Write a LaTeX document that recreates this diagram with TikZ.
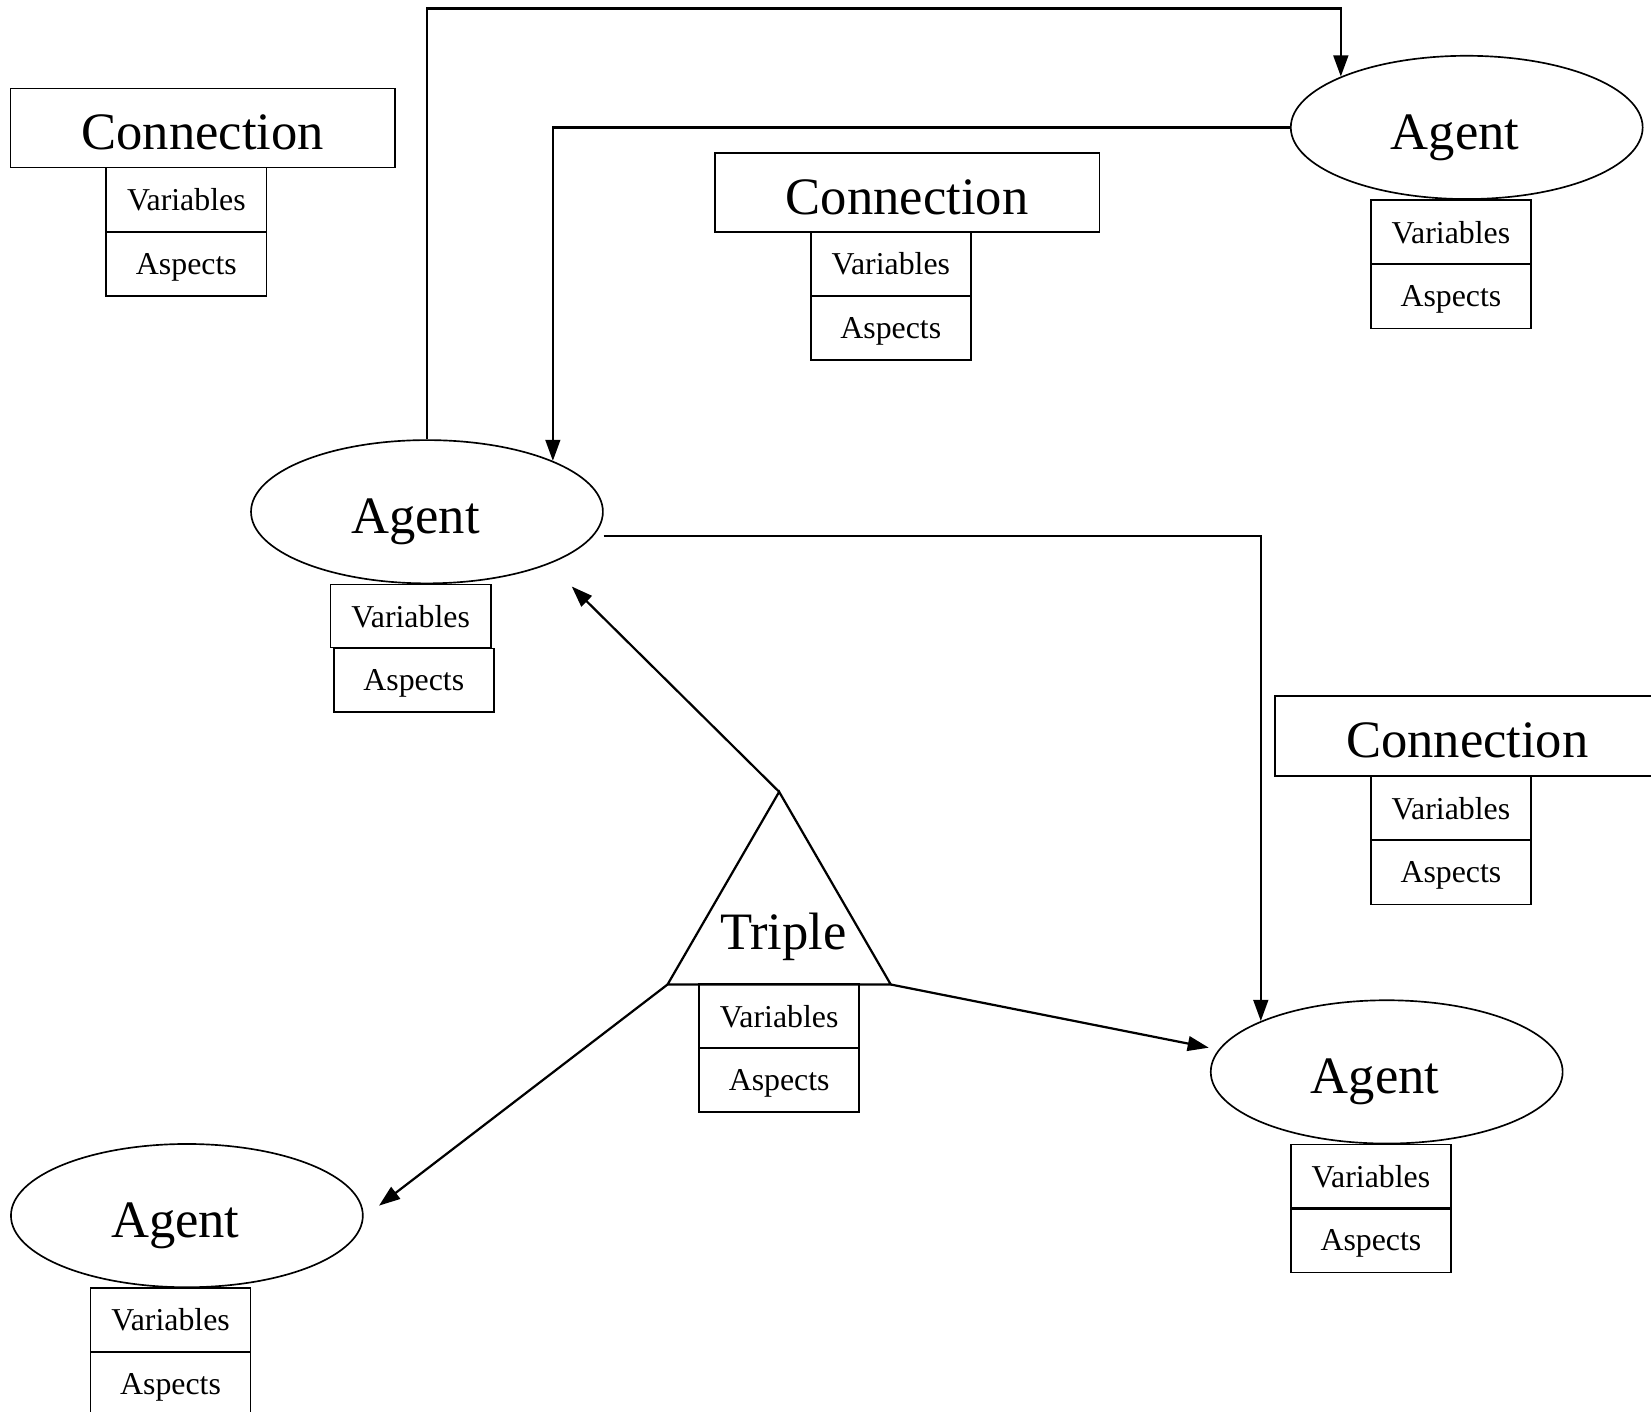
\documentclass[tikz,border=0pt]{standalone}
\usepackage{fontspec}
\setmainfont{Liberation Serif}
\usetikzlibrary{arrows.meta,shapes.geometric,positioning}

\tikzset{
	bigtext/.style={font=\fontsize{14.2}{17}\selectfont,text height=11.8pt,text depth=0pt},
	smalltext/.style={font=\fontsize{8.6}{10}\selectfont,text depth=0pt},
	conbox/.style={rectangle,draw,line width=0.45pt,inner sep=0pt,minimum width=3.65cm,minimum height=0.75cm,bigtext},
	fieldbox/.style={rectangle,draw,line width=0.45pt,inner sep=0pt,minimum width=1.52cm,minimum height=0.61cm,smalltext},
	agent/.style={ellipse,draw,line width=0.45pt,inner sep=0pt,minimum width=3.34cm,minimum height=1.36cm,bigtext},
}

\begin{document}
\begin{tikzpicture}[x=0.01cm,y=-0.01cm]
		\useasboundingbox (0,0) rectangle (1568,1341);

		% agents
		\node[agent] (A1) at (1393,121) {Agent\hspace*{0.22cm}};
		\node[fieldbox] (A1v) at (1378,220.5) {Variables};
		\node[fieldbox] (A1a) at (1378,281.5) {Aspects};

		\node[agent] (A2) at (405.5,486) {Agent\hspace*{0.22cm}};
		\node[fieldbox,minimum height=0.6cm] (A2v) at (390,585) {Variables};
		\node[fieldbox,minimum height=0.6cm] (A2a) at (393,646) {Aspects};

		\node[agent] (A3) at (1317,1018) {Agent\hspace*{0.22cm}};
		\node[fieldbox] (A3v) at (1302,1117.5) {Variables};
		\node[fieldbox] (A3a) at (1302,1178) {Aspects};

		\node[agent] (A4) at (177.5,1154.5) {Agent\hspace*{0.22cm}};
		\node[fieldbox] (A4v) at (162,1253.5) {Variables};
		\node[fieldbox] (A4a) at (162,1314.5) {Aspects};

		% connections
		\node[conbox] (C1) at (192.5,121.5) {Connection};
		\node[fieldbox] (C1v) at (177,189.5) {Variables};
		\node[fieldbox] (C1a) at (177,250.5) {Aspects};

		\node[conbox] (C2) at (861.5,182.5) {Connection};
		\node[fieldbox] (C2v) at (846,250.5) {Variables};
		\node[fieldbox] (C2a) at (846,311.5) {Aspects};

		\node[conbox,minimum height=0.76cm] (C3) at (1393.5,699) {Connection};
		\node[fieldbox] (C3v) at (1378,767.5) {Variables};
		\node[fieldbox] (C3a) at (1378,828.5) {Aspects};

		% triple
		\coordinate (triTop) at (740,752);
		\coordinate (triL) at (634,935);
		\coordinate (triR) at (846,935);
		\draw[line width=0.6pt,line join=miter] (triTop) -- (triR) -- (triL) -- cycle;
		\node[bigtext] (T) at (744,881) {Triple};
		\node[fieldbox] (Tv) at (740,965) {Variables};
		\node[fieldbox] (Ta) at (740,1025.5) {Aspects};

		\coordinate (top) at (0,8);
		\coordinate (tipA2) at (543,557);
		\coordinate (tipA3) at (1148,995);
		\coordinate (tipA4) at (360,1145);

		\begin{scope}[>={Triangle[length=2mm,width=1.4mm]},line width=0.6pt]
			\draw[->] (A2.north) -- (A2.north |- top) -| (A1.158);
			\draw[->] (A1.west) -| (A2.22);
			\draw[->] ([yshift=-0.23cm]A2.east) -| (A3.158);
			\draw[->] (triTop) -- (tipA2);
			\draw[->] (triR) -- (tipA3);
			\draw[->] (triL) -- (tipA4);
		\end{scope}
	\end{tikzpicture}
\end{document}
